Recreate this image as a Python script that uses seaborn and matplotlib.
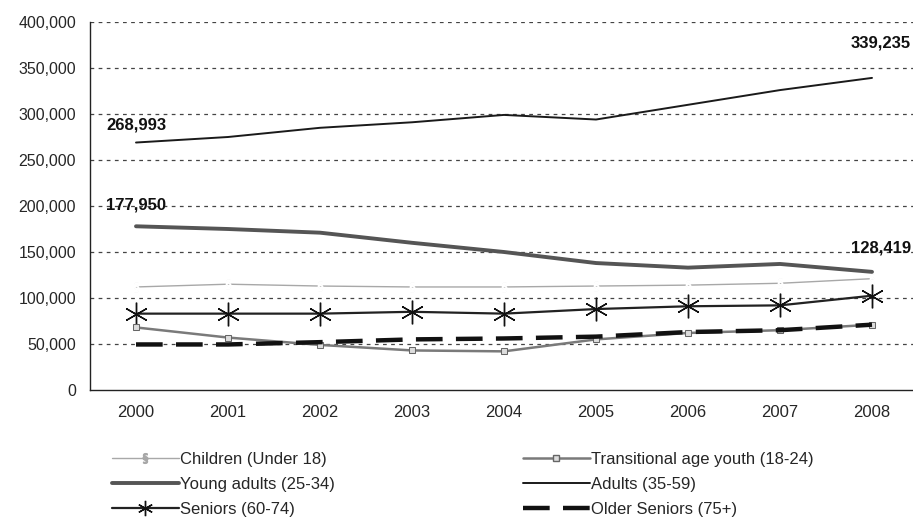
import matplotlib
matplotlib.use("Agg")
import matplotlib.pyplot as plt
import seaborn as sns
from matplotlib.lines import Line2D

years = ["2000", "2001", "2002", "2003", "2004", "2005", "2006", "2007", "2008"]
children = [112000, 115000, 113000, 112000, 112000, 113000, 114000, 116000, 121000]
transitional_youth = [68000, 57000, 49000, 43000, 42000, 55000, 62000, 65000, 71000]
young_adults = [177950, 175000, 171000, 160000, 150000, 138000, 133000, 137000, 128419]
adults = [268993, 275000, 285000, 291000, 299000, 294000, 310000, 326000, 339235]
seniors = [83000, 83000, 83000, 85000, 83000, 88000, 91000, 92000, 102500]
older_seniors = [49500, 49500, 52000, 55000, 56000, 58000, 63000, 65000, 71000]
y_ticks = [0, 50000, 100000, 150000, 200000, 250000, 300000, 350000, 400000]

sns.set_style("white")
plt.rcParams["font.family"] = ["Liberation Sans", "DejaVu Sans"]

fig = plt.figure(figsize=(9.13, 5.19), dpi=100)
ax = fig.add_axes([90 / 913, (519 - 390) / 519, 828 / 913, 368 / 519])

pos = list(range(len(years)))

series = [
    ("Children (Under 18)", children,
     dict(color="#a8a8a8", lw=1.0, marker="$§$", markersize=7)),
    ("Young adults (25-34)", young_adults,
     dict(color="#555555", lw=2.8, marker=None)),
    ("Seniors (60-74)", seniors,
     dict(color="#222222", lw=1.6, marker=(6, 2, 0), markersize=17,
          markeredgewidth=1.0, markeredgecolor="#111111")),
    ("Transitional age youth (18-24)", transitional_youth,
     dict(color="#7a7a7a", lw=1.8, marker="s", markersize=5,
          markerfacecolor="#dddddd", markeredgecolor="#666666")),
    ("Adults (35-59)", adults,
     dict(color="#1a1a1a", lw=1.4, marker=None)),
    ("Older Seniors (75+)", older_seniors,
     dict(color="#111111", lw=3.2, marker=None, linestyle=(0, (6, 3)))),
]

handles = []
for name, vals, kw in series:
    kw = dict(kw)
    ls = kw.pop("linestyle", "-")
    sns.lineplot(x=pos, y=vals, ax=ax, linestyle=ls, **kw)
    hkw = {k: v for k, v in kw.items() if k != "markersize"}
    handles.append(Line2D([0], [0], linestyle=ls,
                          markersize=min(kw.get("markersize", 6), 11), **hkw))

ax.set_xlim(-0.5, 8.5)
ax.set_ylim(0, 400000)
ax.set_yticks(y_ticks)
ax.set_yticklabels([f"{v:,}" for v in y_ticks], fontsize=11.5)
ax.set_xticks(pos)
ax.set_xticklabels(years, fontsize=12)
ax.set_xticks([p + 0.5 for p in pos[:-1]], minor=True)
ax.tick_params(axis="x", which="major", length=0, pad=11)
ax.tick_params(axis="x", which="minor", length=6, direction="inout", color="#333333")
ax.tick_params(axis="y", length=4, direction="out", color="#333333", pad=6)
ax.set_xlabel("")
ax.set_ylabel("")

for v in y_ticks[1:]:
    ax.axhline(v, color="#444444", lw=0.9, linestyle=(0, (3, 3.5)), zorder=0)

for side in ("top", "right"):
    ax.spines[side].set_visible(False)
for side in ("left", "bottom"):
    ax.spines[side].set_color("#222222")
    ax.spines[side].set_linewidth(1.0)

lab = dict(fontsize=12, fontweight="bold", color="#111111", va="center")
ax.text(0, 288000, f"{adults[0]:,}", ha="center", **lab)
ax.text(0, 201000, f"{young_adults[0]:,}", ha="center", **lab)
ax.text(7.77, 154000, f"{young_adults[-1]:,}", ha="left", **lab)
ax.text(7.77, 377000, f"{adults[-1]:,}", ha="left", **lab)

leg_kw = dict(frameon=False, fontsize=12, handlelength=4.0, handletextpad=0.08,
              labelspacing=0.6, borderpad=0, borderaxespad=0)
fig.legend(handles[:3], [s[0] for s in series[:3]], loc="upper left",
           bbox_to_anchor=(112 / 913, 1 - 452 / 519), **leg_kw)
fig.legend(handles[3:], [s[0] for s in series[3:]], loc="upper left",
           bbox_to_anchor=(523 / 913, 1 - 452 / 519), **leg_kw)

fig.savefig("out.png", dpi=100)
